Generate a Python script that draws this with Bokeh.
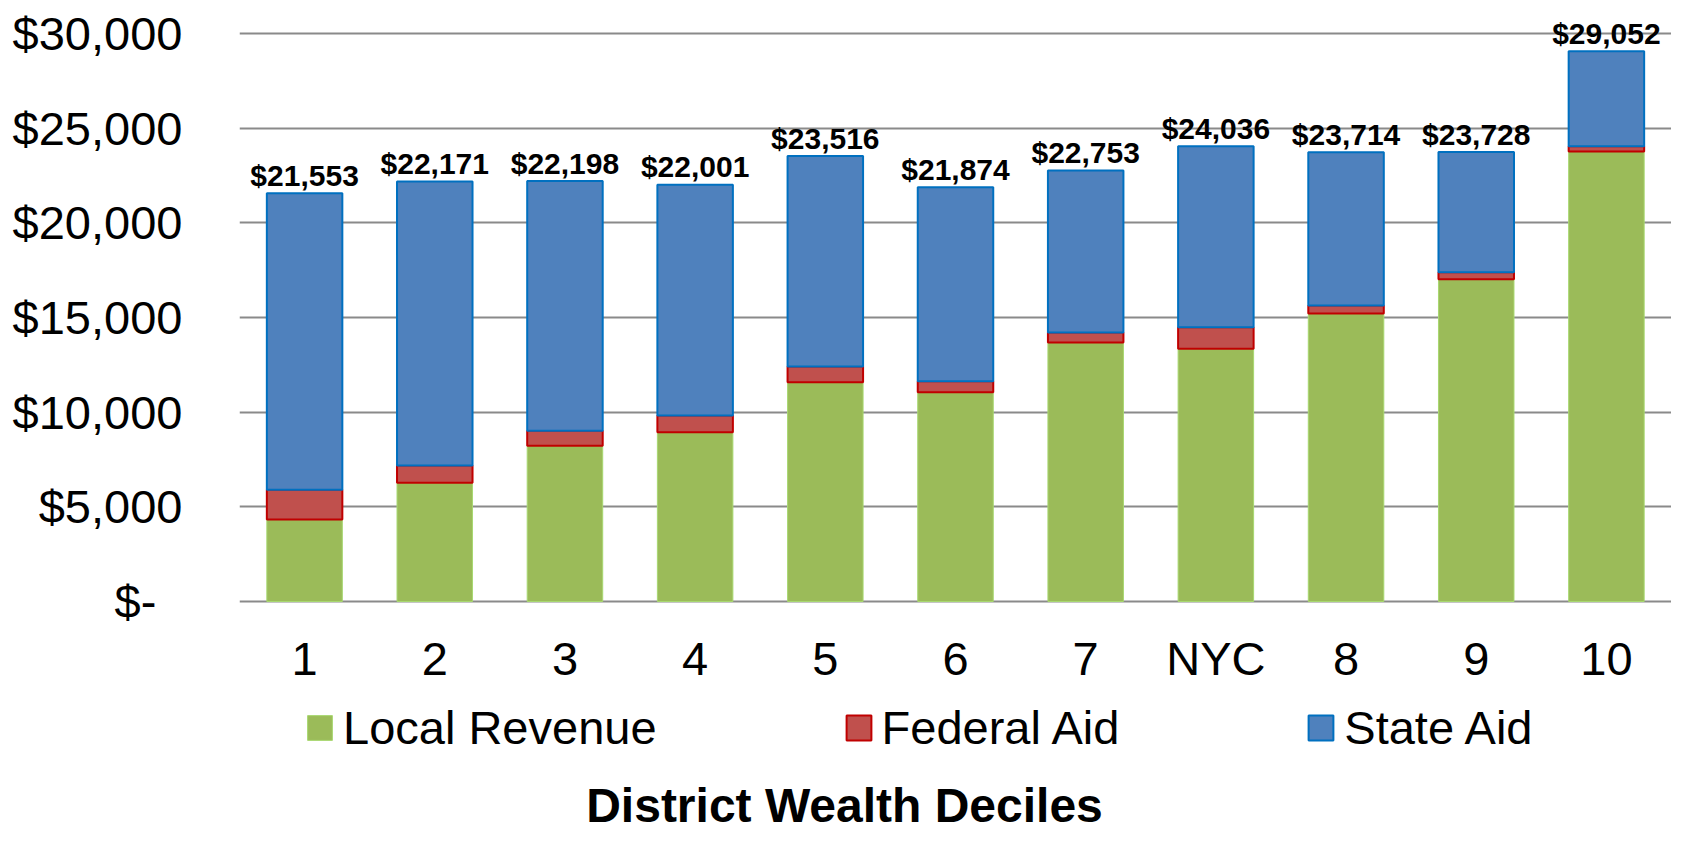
from bokeh.plotting import figure
from bokeh.models import (FactorRange, Range1d, FixedTicker, Legend, LegendItem,
                          Label, ColumnDataSource)
from bokeh.embed import file_html
from bokeh.resources import INLINE
from bokeh.core.properties import value

# ---- data ----
categories = ["1", "2", "3", "4", "5", "6", "7", "NYC", "8", "9", "10"]
totals = [21553, 22171, 22198, 22001, 23516, 21874, 22753, 24036, 23714, 23728, 29052]
local_revenue = [4330, 6270, 8220, 8940, 11580, 11050, 13680, 13340, 15200, 17020, 23760]
federal_aid = [1570, 910, 790, 880, 830, 580, 520, 1140, 430, 370, 280]
state_aid = [15653, 14991, 13188, 12181, 11106, 10244, 8553, 9556, 8084, 6338, 5012]
series_names = ["Local Revenue", "Federal Aid", "State Aid"]
y_ticks = [0, 5000, 10000, 15000, 20000, 25000, 30000]
y_tick_labels = ["$-\u00a0\u00a0", "$5,000", "$10,000", "$15,000", "$20,000", "$25,000", "$30,000"]
x_axis_title = "District Wealth Deciles"

FONT = "Liberation Sans"
FILLS = ["#9BBB59", "#C0504D", "#4F81BD"]
LINES = ["#A8D870", "#C00000", "#0070C0"]
LWIDTHS = [1, 2, 2]

W, H = 1671, 831
LEFT = 239
ZERO_PX = 601                 # pixels from the top of the frame down to the zero line
UNITS_PER_PX = 30000 / (ZERO_PX - 32.8)
Y_TOP = ZERO_PX * UNITS_PER_PX
Y_BOTTOM = -(H - ZERO_PX) * UNITS_PER_PX   # room below zero for legend + title

source = ColumnDataSource(dict(
    cat=categories,
    local=local_revenue,
    federal=federal_aid,
    state=state_aid,
    total=totals,
    label=["${:,}".format(t) for t in totals],
))

p = figure(
    x_range=FactorRange(*categories, range_padding=0),
    y_range=Range1d(Y_BOTTOM, Y_TOP),
    width=W, height=H,
    output_backend="svg", toolbar_location=None,
    min_border_left=LEFT, min_border_right=0, min_border_top=0, min_border_bottom=0,
)
p.outline_line_color = None
p.background_fill_color = "white"
p.border_fill_color = "white"

renderers = p.vbar_stack(
    ["local", "federal", "state"], x="cat", width=0.58, source=source,
    fill_color=FILLS, line_color=LINES, line_width=LWIDTHS,
)

p.text(x="cat", y="total", text="label", source=source,
       text_font=value(FONT), text_font_size="30px", text_font_style="bold",
       text_align="center", text_baseline="alphabetic", y_offset=-18,
       text_color="black")

p.xgrid.grid_line_color = None
p.ygrid.grid_line_color = "#8A8A8A"
p.ygrid.grid_line_width = 2
p.yaxis.ticker = FixedTicker(ticks=y_ticks)
p.yaxis.major_label_overrides = {t: l for t, l in zip(y_ticks, y_tick_labels)}

for ax in (p.xaxis, p.yaxis):
    ax.axis_line_color = None
    ax.major_tick_line_color = None
    ax.minor_tick_line_color = None
    ax.major_tick_out = 0
    ax.major_tick_in = 0
    ax.major_label_text_font = FONT
    ax.major_label_text_font_size = "47px"
    ax.major_label_text_color = "black"
p.yaxis.major_label_standoff = 57
p.xaxis.major_label_standoff = 30
p.xaxis.fixed_location = 0

legend = Legend(
    items=[LegendItem(label=n, renderers=[r]) for n, r in zip(series_names, renderers)],
    orientation="horizontal", location=(65, 76),
    spacing=186, glyph_width=31, glyph_height=31, label_standoff=8,
    label_text_font=FONT, label_text_font_size="47px", label_text_color="black",
    padding=0, margin=0, border_line_color=None, background_fill_alpha=0,
)
p.add_layout(legend, "center")

p.add_layout(Label(
    x=844 - LEFT, y=26, x_units="screen", y_units="screen", text=x_axis_title,
    text_font=FONT, text_font_size="48px", text_font_style="bold",
    text_color="black", text_align="center", text_baseline="alphabetic",
))

open("out.html", "w").write(file_html(p, INLINE))
